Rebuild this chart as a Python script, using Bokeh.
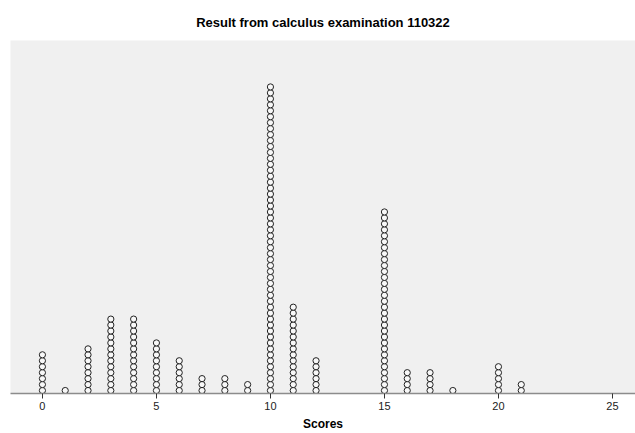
from bokeh.plotting import figure
from bokeh.embed import file_html
from bokeh.resources import INLINE
from bokeh.models import Range1d, FixedTicker, ColumnDataSource

# Data
scores = [0, 1, 2, 3, 4, 5, 6, 7, 8, 9, 10, 11, 12, 15, 16, 17, 18, 20, 21]
counts = [7, 1, 8, 13, 13, 9, 6, 3, 3, 2, 52, 15, 6, 31, 4, 4, 1, 5, 2]
tick_values = [0, 5, 10, 15, 20, 25]

xs, ys = [], []
for s, c in zip(scores, counts):
    for i in range(c):
        xs.append(s)
        ys.append(i + 0.5)
src = ColumnDataSource(dict(x=xs, y=ys))

p = figure(width=635, height=433, output_backend="svg", toolbar_location=None,
           x_range=Range1d(-1.40, 26.01), y_range=Range1d(0, 59.3),
           min_border_left=10, min_border_right=0, min_border_top=40, min_border_bottom=40)

p.title.text = "Result from calculus examination 110322"
p.title.align = "center"
p.title.text_font = "Liberation Sans"
p.title.text_font_size = "13px"
p.title.text_font_style = "bold"
p.title.text_color = "#000000"
p.title.standoff = 22

p.background_fill_color = "#f0f0f0"
p.border_fill_color = "white"
p.outline_line_color = None
p.xgrid.visible = False
p.ygrid.visible = False
p.yaxis.visible = False

p.scatter("x", "y", source=src, marker="circle", size=6.2, fill_color="#f8f8f8",
          line_color="#222222", line_width=1)

ax = p.xaxis[0]
ax.ticker = FixedTicker(ticks=tick_values)
ax.minor_tick_line_color = None
ax.major_tick_in = 0
ax.major_tick_out = 5
ax.major_tick_line_color = "#333333"
ax.axis_line_color = "#8c8c8c"
ax.axis_line_width = 1.5
ax.major_label_text_font = "Liberation Sans"
ax.major_label_text_font_size = "11px"
ax.major_label_text_color = "#222222"
ax.major_label_standoff = 3
ax.axis_label = "Scores"
ax.axis_label_text_font = "Liberation Sans"
ax.axis_label_text_font_size = "12px"
ax.axis_label_text_font_style = "bold"
ax.axis_label_text_color = "#000000"
ax.axis_label_standoff = 4

open("out.html", "w").write(file_html(p, INLINE))
